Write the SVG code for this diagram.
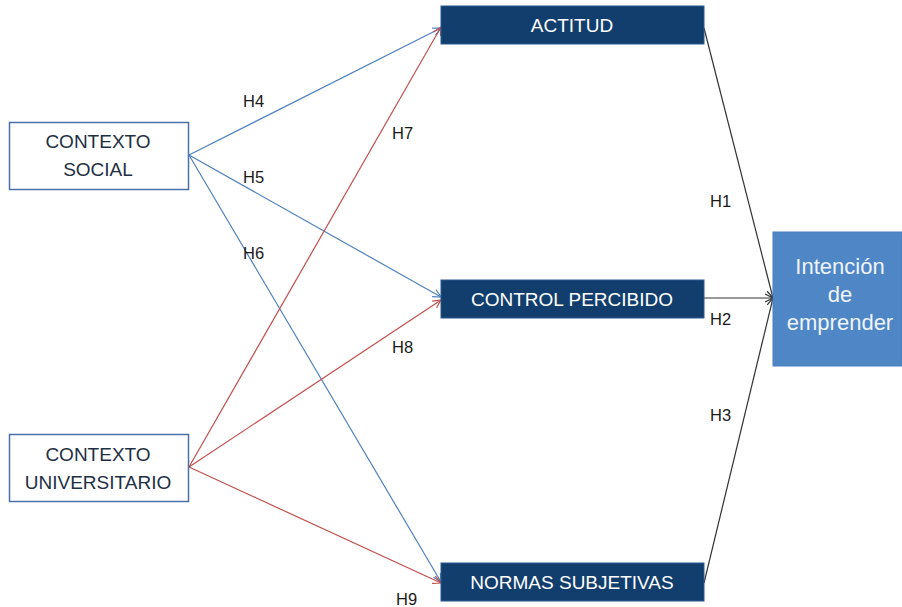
<svg xmlns="http://www.w3.org/2000/svg" width="902" height="607" viewBox="0 0 902 607">
<defs>
<style>
.ctx{fill:#fff;stroke:#4a72a8;stroke-width:1.5}
.dark{fill:#123e6e;stroke:#2a5a90;stroke-width:1}
.main{fill:#4f86c6;stroke:#4a7fbf;stroke-width:1}
text{font-family:"Liberation Sans",Arial,sans-serif}
.t1{font-size:19px;fill:#1f2f44;text-anchor:middle}
.t2{font-size:19px;fill:#fff;text-anchor:middle}
.t3{font-size:22px;fill:#eef4fb;text-anchor:middle}
.lab{font-size:16.5px;fill:#1a1a1a}
.blue{stroke:#4f81bd;stroke-width:1.2;fill:none}
.red{stroke:#c0504d;stroke-width:1.2;fill:none}
.blk{stroke:#333;stroke-width:1.2;fill:none}
</style>
<marker id="ab" markerWidth="10" markerHeight="10" refX="9" refY="5" orient="auto" markerUnits="userSpaceOnUse"><path d="M1,1 L9,5 L1,9" fill="none" stroke="#4f81bd" stroke-width="1.2"/></marker>
<marker id="ar" markerWidth="10" markerHeight="10" refX="9" refY="5" orient="auto" markerUnits="userSpaceOnUse"><path d="M1,1 L9,5 L1,9" fill="none" stroke="#c0504d" stroke-width="1.2"/></marker>
<marker id="ak" markerWidth="10" markerHeight="10" refX="9" refY="5" orient="auto" markerUnits="userSpaceOnUse"><path d="M1,1 L9,5 L1,9" fill="none" stroke="#333" stroke-width="1.2"/></marker>
</defs>
<rect width="902" height="607" fill="#fff"/>
<g id="connectors">
<line class="blue" x1="189" y1="155" x2="441" y2="28" marker-end="url(#ab)"/>
<line class="blue" x1="189" y1="155" x2="441" y2="297" marker-end="url(#ab)"/>
<line class="blue" x1="189" y1="155" x2="441" y2="582" marker-end="url(#ab)"/>
<line class="red" x1="189" y1="467" x2="441" y2="27" marker-end="url(#ar)"/>
<line class="red" x1="189" y1="467" x2="441" y2="300" marker-end="url(#ar)"/>
<line class="red" x1="189" y1="467" x2="441" y2="583" marker-end="url(#ar)"/>
<line class="blk" x1="704" y1="28" x2="773" y2="298" marker-end="url(#ak)"/>
<line class="blk" x1="704" y1="298" x2="773" y2="298" marker-end="url(#ak)"/>
<line class="blk" x1="704" y1="583" x2="773" y2="298" marker-end="url(#ak)"/>
<text class="lab" x="243" y="107">H4</text>
<text class="lab" x="243" y="183">H5</text>
<text class="lab" x="243" y="259">H6</text>
<text class="lab" x="392" y="139">H7</text>
<text class="lab" x="392" y="353">H8</text>
<text class="lab" x="396" y="605">H9</text>
<text class="lab" x="710" y="207">H1</text>
<text class="lab" x="710" y="325">H2</text>
<text class="lab" x="710" y="421">H3</text>
</g>
<g id="social">
<rect class="ctx" x="9.5" y="122.5" width="179" height="67"/>
<text class="t1" x="98" y="148">CONTEXTO</text>
<text class="t1" x="98" y="176">SOCIAL</text>
</g>
<g id="universitario">
<rect class="ctx" x="9.5" y="434.5" width="179" height="67"/>
<text class="t1" x="98" y="461">CONTEXTO</text>
<text class="t1" x="98" y="489">UNIVERSITARIO</text>
</g>
<g id="actitud">
<rect class="dark" x="441" y="6" width="263" height="38"/>
<text class="t2" x="572" y="32">ACTITUD</text>
</g>
<g id="control">
<rect class="dark" x="441" y="280" width="263" height="38"/>
<text class="t2" x="572" y="306">CONTROL PERCIBIDO</text>
</g>
<g id="normas">
<rect class="dark" x="441" y="563" width="263" height="38"/>
<text class="t2" x="572" y="589">NORMAS SUBJETIVAS</text>
</g>
<g id="intencion">
<rect class="main" x="773" y="232" width="129" height="134"/>
<text class="t3" x="840" y="274">Intención</text>
<text class="t3" x="840" y="302">de</text>
<text class="t3" x="840" y="330">emprender</text>
</g>
</svg>
